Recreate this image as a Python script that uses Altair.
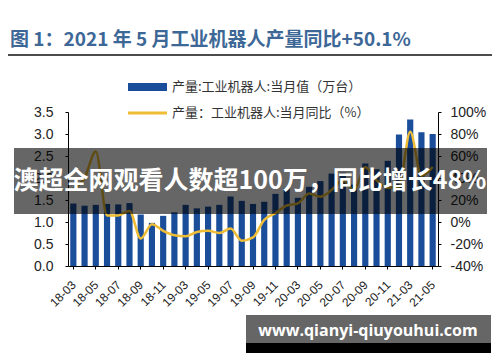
import altair as alt
import pandas as pd

months = ["18-03","18-04","18-05","18-06","18-07","18-08","18-09","18-10","18-11","18-12",
          "19-03","19-04","19-05","19-06","19-07","19-08","19-09","19-10","19-11","19-12",
          "20-03","20-04","20-05","20-06","20-07","20-08","20-09","20-10","20-11","20-12",
          "21-03","21-04","21-05"]
production = [1.42,1.37,1.39,1.41,1.40,1.43,1.17,0.98,1.14,1.22,
              1.39,1.31,1.35,1.39,1.58,1.48,1.41,1.46,1.64,1.77,
              1.55,1.80,1.93,2.10,2.12,1.85,2.33,2.20,2.39,2.99,
              3.33,3.04,3.00]
yoy = [30,40,64,6,6,10,-15,-2,-8,-12,
       -13,-9,-8,-10,-6,-17,-14,2,8,15,
       17,26,23,29,38,29,50,38,31,32,
       82,42,50]
tick_labels = months[::2]

title_text = "图 1：2021 年 5 月工业机器人产量同比+50.1%"
legend_bar = "产量:工业机器人:当月值（万台）"
legend_line = "产量：工业机器人:当月同比（%）"
banner_text = "澳超全网观看人数超100万，同比增长48%"
watermark_text = "www.qianyi-qiuyouhui.com"

df = pd.DataFrame({"month": months, "prod": production, "yoy": yoy})
one = pd.DataFrame({"k": [0]})

W, H = 370, 154
BLUE = "#1a4e9a"
GOLD = "#eebd35"

xenc = alt.X("month:N", sort=months, title=None,
             scale=alt.Scale(paddingInner=0.45, paddingOuter=0.2),
             axis=alt.Axis(values=tick_labels, labelAngle=-45, labelFontSize=12,
                           labelFont="Liberation Sans", labelColor="#222",
                           domainColor="#000", tickColor="#000", tickSize=3,
                           labelPadding=10, labelOffset=-3, grid=False))

bars = alt.Chart(df).mark_bar(color=BLUE).encode(
    x=xenc,
    y=alt.Y("prod:Q", title=None,
            scale=alt.Scale(domain=[0, 3.5], nice=False),
            axis=alt.Axis(values=[0,0.5,1,1.5,2,2.5,3,3.5], format=".1f",
                          labelFontSize=14, labelFont="Liberation Sans",
                          labelColor="#222", domainColor="#000", tickColor="#000",
                          tickSize=3, labelPadding=12, grid=False))
)

line = alt.Chart(df).mark_line(color=GOLD, strokeWidth=2.5, interpolate="monotone").encode(
    x=alt.X("month:N", sort=months),
    y=alt.Y("yoy:Q", title=None,
            scale=alt.Scale(domain=[-40, 100], nice=False),
            axis=alt.Axis(orient="right", values=[-40,-20,0,20,40,60,80,100],
                          labelExpr="datum.value + '%'",
                          labelFontSize=14, labelFont="Liberation Sans",
                          labelColor="#222", domainColor="#000", tickColor="#000",
                          tickSize=3, labelPadding=9, grid=False))
)

ov = alt.Chart(one)

title = ov.mark_text(text=title_text, font="Noto Sans CJK SC", fontSize=19,
                     fontWeight="bold", color="#3d6796", align="left", baseline="middle"
                     ).encode(x=alt.value(-58), y=alt.value(-72))
rule = ov.mark_rule(color="#111", strokeWidth=1.5).encode(
    x=alt.value(-60), x2=alt.value(424), y=alt.value(-57))

leg_rect = ov.mark_rect(color=BLUE).encode(
    x=alt.value(60), x2=alt.value(99), y=alt.value(-29), y2=alt.value(-21))
leg_text1 = ov.mark_text(text=legend_bar, font="Noto Sans CJK SC", fontSize=13,
                         color="#333", align="left", baseline="middle"
                         ).encode(x=alt.value(104), y=alt.value(-25))
leg_line = ov.mark_rule(color=GOLD, strokeWidth=3).encode(
    x=alt.value(60), x2=alt.value(99), y=alt.value(1))
leg_text2 = ov.mark_text(text=legend_line, font="Noto Sans CJK SC", fontSize=13,
                         color="#333", align="left", baseline="middle"
                         ).encode(x=alt.value(104), y=alt.value(1))

banner = ov.mark_rect(color="#000", opacity=0.6).encode(
    x=alt.value(-54), x2=alt.value(419), y=alt.value(36), y2=alt.value(102))
banner_t = ov.mark_text(text=banner_text, font="Noto Sans CJK SC", fontSize=25,
                        fontWeight="bold", color="#fff", align="center", baseline="middle"
                        ).encode(x=alt.value(182), y=alt.value(69))

wm_box = ov.mark_rect(color="#666666").encode(
    x=alt.value(178), x2=alt.value(423), y=alt.value(203), y2=alt.value(231))
wm_black = ov.mark_rect(color="#000").encode(
    x=alt.value(178), x2=alt.value(423), y=alt.value(231), y2=alt.value(241))
wm_t = ov.mark_text(text=watermark_text, font="Open Sans", fontSize=16,
                    fontWeight="bold", color="#fff", align="center", baseline="middle"
                    ).encode(x=alt.value(300), y=alt.value(219))

chart = alt.layer(bars, line).resolve_scale(y="independent")
chart = alt.layer(chart, title, rule, leg_rect, leg_text1, leg_line, leg_text2,
                  banner, banner_t, wm_box, wm_black, wm_t).properties(
    width=W, height=H,
    autosize=alt.AutoSizeParams(type="none"),
    padding={"left": 60, "top": 104, "right": 54, "bottom": 88},
    background="#ffffff"
).configure_view(stroke=None)

chart.save("out.html", embed_options={"renderer": "svg", "actions": False})
